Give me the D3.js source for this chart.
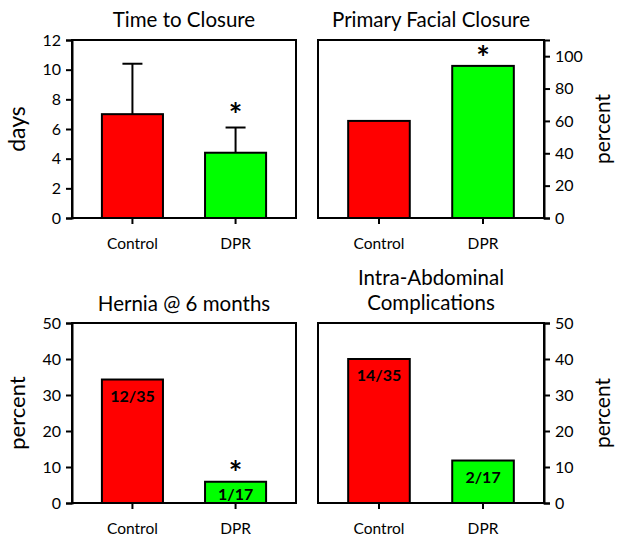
<!DOCTYPE html>
<html><head><meta charset="utf-8">
<script src="https://cdn.jsdelivr.net/npm/d3@7"></script>
<style>body{margin:0;background:#fff;} svg{display:block;} text{font-family:Lato,"Open Sans",sans-serif;fill:#000;}</style>
</head><body><svg id="c" width="619" height="538"></svg>
<script>
const categories = ["Control", "DPR"];
const colors = ["#ff0000", "#00ff00"];
const closureDays = [7.0, 4.4];
const closureErr = [10.4, 6.1];
const facialPct = [60, 94];
const herniaPct = [34.3, 5.9];
const herniaLabels = ["12/35", "1/17"];
const complPct = [40, 11.8];
const complLabels = ["14/35", "2/17"];
const ticksDays = [0, 2, 4, 6, 8, 10, 12];
const ticksFacial = [0, 20, 40, 60, 80, 100];
const ticksPct50 = [0, 10, 20, 30, 40, 50];

const svg = d3.select("#c");

const panels = [
  {title:["Time to Closure"], titleY:[27], x0:72, x1:296, y0:40, y1:218, max:12, ticks:ticksDays, side:"left",
   values:closureDays, err:closureErr, star:1, starGap:18, ylabel:"days", ylabelSize:23, ylabelX:19},
  {title:["Primary Facial Closure"], titleY:[27], x0:318, x1:544, y0:40, y1:218, max:110, ticks:ticksFacial, side:"right",
   values:facialPct, star:1, starGap:13, ylabel:"percent", ylabelSize:21, ylabelX:605},
  {title:["Hernia @ 6 months"], titleY:[311], x0:72, x1:296, y0:323, y1:503, max:50, ticks:ticksPct50, side:"left",
   values:herniaPct, labels:herniaLabels, star:1, starGap:14, ylabel:"percent", ylabelSize:22, ylabelX:19},
  {title:["Intra-Abdominal","Complications"], titleY:[285, 310], x0:318, x1:544, y0:323, y1:503, max:50, ticks:ticksPct50, side:"right",
   values:complPct, labels:complLabels, ylabel:"percent", ylabelSize:21, ylabelX:605}
];

panels.forEach(p => {
  const g = svg.append("g");
  const x = d3.scaleBand().domain(categories).range([p.x0, p.x1]).paddingInner(0.408).paddingOuter(0.29);
  const y = d3.scaleLinear().domain([0, p.max]).range([p.y1, p.y0]);

  g.selectAll("rect.bar").data(p.values).join("rect")
    .attr("x", (d,i) => x(categories[i]))
    .attr("y", d => y(d))
    .attr("width", x.bandwidth())
    .attr("height", d => y(0) - y(d))
    .attr("fill", (d,i) => colors[i])
    .attr("stroke", "#000").attr("stroke-width", 2);

  if (p.err) {
    p.err.forEach((e,i) => {
      const cx = x(categories[i]) + x.bandwidth()/2;
      g.append("line").attr("x1", cx).attr("x2", cx).attr("y1", y(p.values[i])).attr("y2", y(e))
        .attr("stroke", "#000").attr("stroke-width", 2);
      g.append("line").attr("x1", cx-10).attr("x2", cx+10).attr("y1", y(e)).attr("y2", y(e))
        .attr("stroke", "#000").attr("stroke-width", 2);
    });
  }

  if (p.labels) {
    p.labels.forEach((l,i) => {
      const cx = x(categories[i]) + x.bandwidth()/2;
      const h = y(0) - y(p.values[i]);
      const off = Math.min(22, h/2 + 7.5);
      g.append("text").attr("x", cx).attr("y", y(p.values[i]) + off)
        .attr("text-anchor", "middle").attr("font-weight", "bold").attr("font-size", 16).text(l);
    });
  }

  if (p.star !== undefined) {
    const i = p.star;
    const top = p.err ? p.err[i] : p.values[i];
    const cx = x(categories[i]) + x.bandwidth()/2;
    const fs = 32;
    g.append("text").attr("x", cx).attr("y", y(top) - p.starGap + 0.54*fs)
      .attr("text-anchor", "middle").attr("font-size", fs).attr("font-weight", "bold").text("*");
  }

  g.append("rect").attr("x", p.x0).attr("y", p.y0).attr("width", p.x1-p.x0).attr("height", p.y1-p.y0)
    .attr("fill", "none").attr("stroke", "#000").attr("stroke-width", 2);

  const axis = (p.side === "left" ? d3.axisLeft(y) : d3.axisRight(y)).tickValues(p.ticks).tickSize(6).tickPadding(5);
  const ag = g.append("g").attr("transform", `translate(${p.side === "left" ? p.x0 : p.x1},0)`).call(axis);
  ag.select(".domain").attr("stroke-width", 2);
  ag.selectAll(".tick line").attr("stroke-width", 2);
  ag.selectAll(".tick text").attr("font-size", 16).attr("font-family", "Lato");

  const xa = d3.axisBottom(x).tickSize(6).tickPadding(14);
  const xg = g.append("g").attr("transform", `translate(0,${p.y1})`).call(xa);
  xg.select(".domain").remove();
  xg.selectAll(".tick line").attr("stroke-width", 2);
  xg.selectAll(".tick text").attr("font-size", 15.5).attr("font-family", "Lato");

  const cxT = (p.x0 + p.x1)/2;
  p.title.forEach((t,k) => {
    g.append("text").attr("x", cxT).attr("y", p.titleY[k]).attr("text-anchor", "middle")
      .attr("font-size", 20.5).text(t);
  });

  const cy = (p.y0 + p.y1)/2;
  g.append("text").attr("transform", `translate(${p.ylabelX},${cy}) rotate(-90)`)
    .attr("text-anchor", "middle").attr("dominant-baseline", "middle").attr("font-size", p.ylabelSize).text(p.ylabel);
});
</script></body></html>
